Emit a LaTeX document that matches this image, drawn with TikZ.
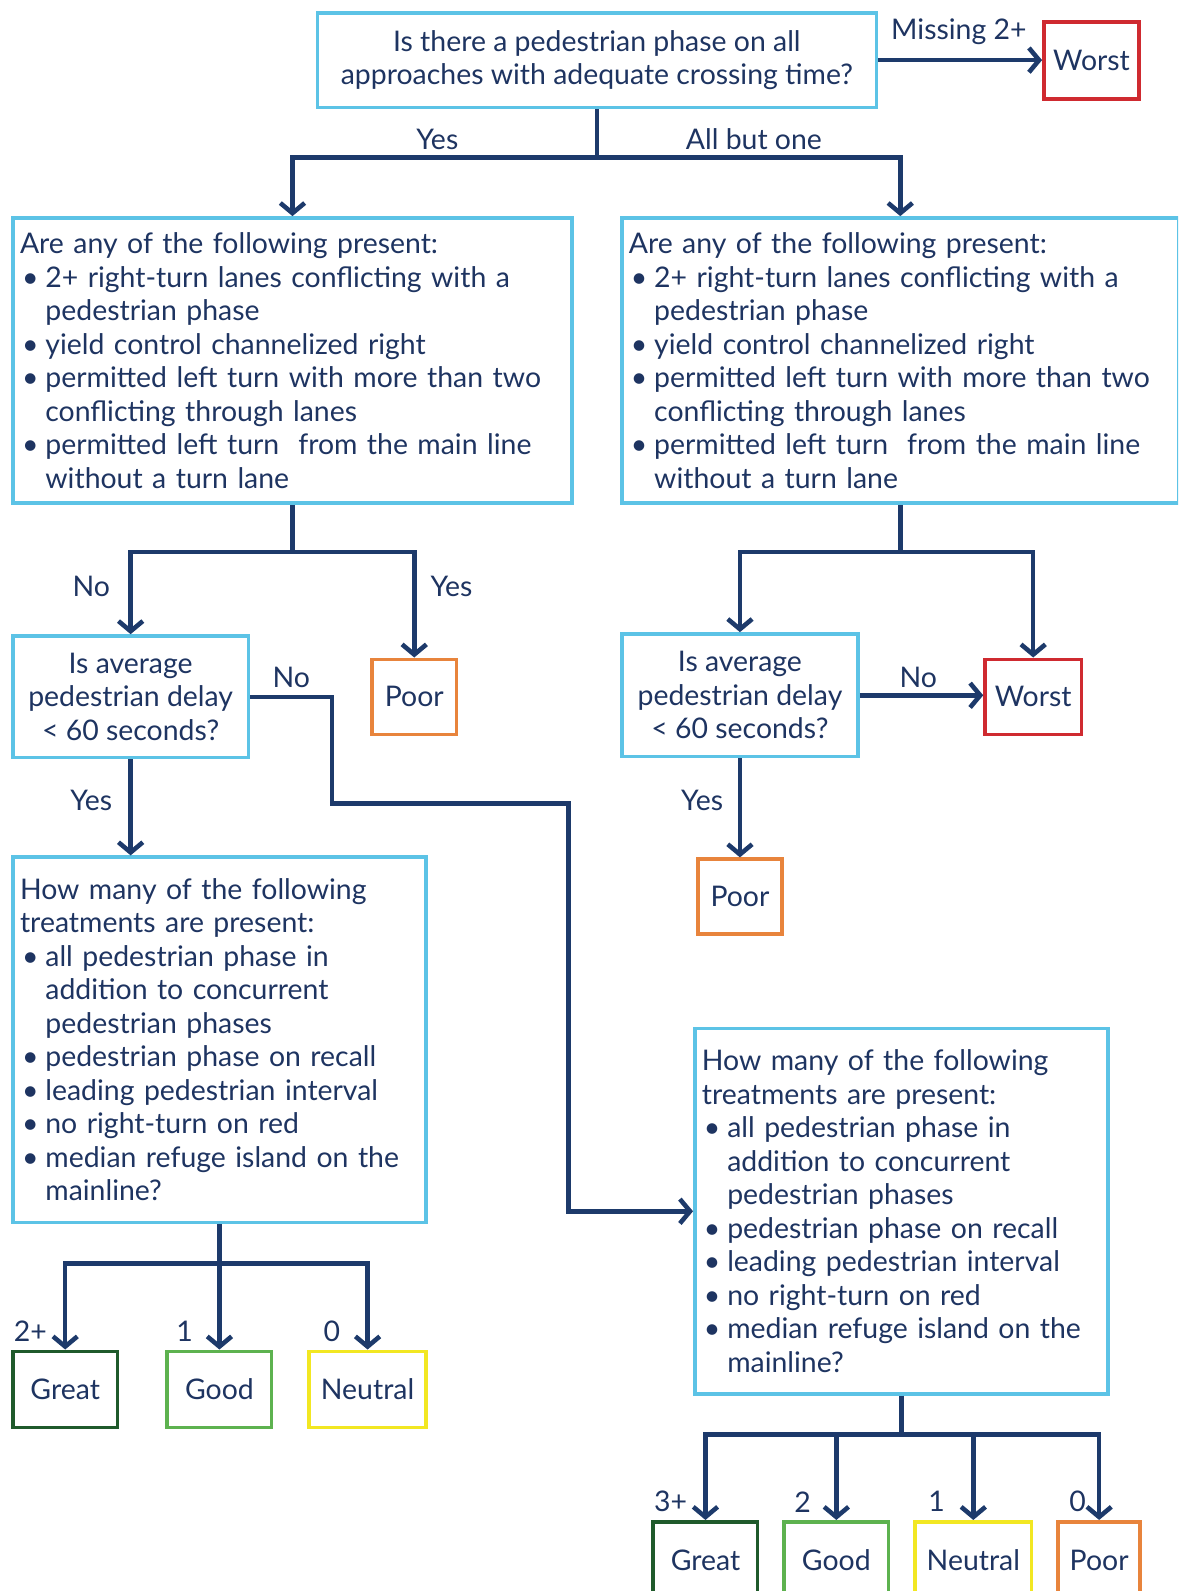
\documentclass[tikz,border=0pt]{standalone}
\usepackage{fontspec}
\setmainfont{Lato}
\usetikzlibrary{arrows.meta}

\definecolor{navy}{HTML}{1D3A6B}
\definecolor{ink}{HTML}{1E3461}
\definecolor{qblue}{HTML}{5CC3E6}
\definecolor{worstred}{HTML}{CF2A30}
\definecolor{poororange}{HTML}{E8843C}
\definecolor{greatgreen}{HTML}{1F5A2B}
\definecolor{goodgreen}{HTML}{5DB24F}
\definecolor{neutralyellow}{HTML}{F2E722}

% bullet and hanging indent for list lines
\newcommand{\bitem}{\makebox[25pt][l]{\hspace{2pt}\textbullet}}
\newcommand{\bcont}{\hspace*{25pt}}
\newcommand{\txtfont}{\fontsize{28}{33}\selectfont}

\tikzset{
  box/.style={draw, line width=3.5pt, inner sep=0pt, text=ink, font=\txtfont},
  qbox/.style={box, draw=qblue},
  listbox/.style={qbox, anchor=north west, inner xsep=7pt, align=left},
  askbox/.style={qbox, anchor=north west, align=center},
  rbox/.style={box, anchor=north west, minimum height=75},
  conn/.style={draw=navy, line width=4.5pt},
  arr/.style={conn, -{Straight Barb[length=10pt,width=24pt]}},
  lbl/.style={text=ink, font=\txtfont, inner sep=0pt},
}

\begin{document}
\begin{tikzpicture}[x=1pt,y=-1pt]
\useasboundingbox (0,0) rectangle (1161,1568);
\clip (0,0) rectangle (1161,1568);

% ---- first question ----
\node[askbox, minimum width=551, minimum height=93] (q1) at (311,11)
  {Is there a pedestrian phase on all\\approaches with adequate crossing time?};
\node[rbox, draw=worstred, minimum width=94, minimum height=76] (w0) at (1027,20) {Worst};
\draw[arr] (q1.east) -- (q1.east -| w0.west);
\node[lbl] (lmiss) at (945,31) {Missing 2+};

% ---- conflict questions ----
\node[listbox, minimum width=551, minimum height=281, text width=537] (b1) at (11,213)
  {Are any of the following present:\\
   \bitem 2+ right-turn lanes conflicting with a\\
   \bcont pedestrian phase\\
   \bitem yield control channelized right\\
   \bitem permitted left turn with more than two\\
   \bcont conflicting through lanes\\
   \bitem permitted left turn~ from the main line\\
   \bcont without a turn lane};
\node[listbox, minimum width=549, minimum height=281, text width=535] (b2) at (611,213)
  {Are any of the following present:\\
   \bitem 2+ right-turn lanes conflicting with a\\
   \bcont pedestrian phase\\
   \bitem yield control channelized right\\
   \bitem permitted left turn with more than two\\
   \bcont conflicting through lanes\\
   \bitem permitted left turn~ from the main line\\
   \bcont without a turn lane};

\coordinate (j1) at (q1.south |- 0,155);
\draw[conn] (q1.south) -- (j1);
\draw[arr] (j1) -| (b1.north);
\draw[arr] (j1) -| (b2.north);
\node[lbl] (lyes1) at (431,137) {Yes};
\node[lbl] (lallbut) at (743,137) {All but one};

% ---- left branch ----
\node[askbox, minimum width=232, minimum height=120] (q2) at (11,625)
  {Is average\\pedestrian delay\\< 60 seconds?};
\node[rbox, draw=poororange, minimum width=83, minimum height=74] (p1) at (365,648) {Poor};
\coordinate (j2) at (b1.south |- 0,544);
\draw[conn] (b1.south) -- (j2);
\draw[arr] (j2) -| (q2.north);
\draw[arr] (j2) -| (p1.north);
\node[lbl] (lno1) at (90,578) {No};
\node[lbl] (lyes2) at (445,578) {Yes};

% ---- right branch ----
\node[askbox, minimum width=233, minimum height=121] (q3) at (611,623)
  {Is average\\pedestrian delay\\< 60 seconds?};
\node[rbox, draw=worstred, minimum width=95, minimum height=74] (w1) at (969,648) {Worst};
\node[rbox, draw=poororange, minimum width=83, minimum height=74] (p2) at (686,845) {Poor};
\coordinate (j3) at (b2.south |- 0,544);
\draw[conn] (b2.south) -- (j3);
\draw[arr] (j3) -| (q3.north);
\draw[arr] (j3) -| (w1.north);
\draw[arr] (q3.east) -- (q3.east -| w1.west);
\node[lbl] (lno2) at (905,668) {No};
\draw[arr] (q3.south) -- (q3.south |- p2.north);
\node[lbl] (lyes3) at (692,789) {Yes};

% ---- treatment counts ----
\node[listbox, minimum width=407, minimum height=360, text width=393] (h1) at (11,843)
  {How many of the following\\
   treatments are present:\\
   \bitem all pedestrian phase in\\
   \bcont addition to concurrent\\
   \bcont pedestrian phases\\
   \bitem pedestrian phase on recall\\
   \bitem leading pedestrian interval\\
   \bitem no right-turn on red\\
   \bitem median refuge island on the\\
   \bcont mainline?};
\node[listbox, minimum width=407, minimum height=360, text width=393] (h2) at (683,1012)
  {How many of the following\\
   treatments are present:\\
   \bitem all pedestrian phase in\\
   \bcont addition to concurrent\\
   \bcont pedestrian phases\\
   \bitem pedestrian phase on recall\\
   \bitem leading pedestrian interval\\
   \bitem no right-turn on red\\
   \bitem median refuge island on the\\
   \bcont mainline?};

\draw[arr] (q2.south) -- (h1.north -| q2.south);
\node[lbl] (lyes4) at (90,789) {Yes};
\coordinate (r1) at (327,792);
\coordinate (r2) at (560,792);
\draw[arr] (q2.east) -| (r1) -- (r2) |- (h2.west);
\node[lbl] (lno3) at (287,668) {No};

% ---- left outcomes ----
\node[rbox, draw=greatgreen, minimum width=103] (g1) at (11,1330) {Great};
\node[rbox, draw=goodgreen, minimum width=103] (d1) at (163,1330) {Good};
\node[rbox, draw=neutralyellow, minimum width=115] (n1) at (303,1330) {Neutral};
\coordinate (j4) at (h1.south |- 0,1245);
\draw[conn] (h1.south) -- (j4);
\draw[arr] (j4) -| (g1.north);
\draw[arr] (j4) -| (d1.north);
\draw[arr] (j4) -| (n1.north);
\node[lbl] (c2p) at (30,1312) {2+};
\node[lbl] (c1a) at (182,1312) {1};
\node[lbl] (c0a) at (327,1312) {0};

% ---- right outcomes ----
\node[rbox, draw=greatgreen, minimum width=103, minimum height=76] (g2) at (642,1498) {Great};
\node[rbox, draw=goodgreen, minimum width=103, minimum height=76] (d2) at (771,1498) {Good};
\node[rbox, draw=neutralyellow, minimum width=115, minimum height=76] (n2) at (900,1498) {Neutral};
\node[rbox, draw=poororange, minimum width=81, minimum height=76] (p3) at (1041,1498) {Poor};
\coordinate (j5) at (h2.south |- 0,1414);
\draw[conn] (h2.south) -- (j5);
\draw[arr] (j5) -| (g2.north);
\draw[arr] (j5) -| (d2.north);
\draw[arr] (j5) -| (n2.north);
\draw[arr] (j5) -| (p3.north);
\node[lbl] (c3p) at (661,1480) {3+};
\node[lbl] (c2b) at (791,1480) {2};
\node[lbl] (c1b) at (923,1480) {1};
\node[lbl] (c0b) at (1062,1480) {0};
\end{tikzpicture}
\end{document}
